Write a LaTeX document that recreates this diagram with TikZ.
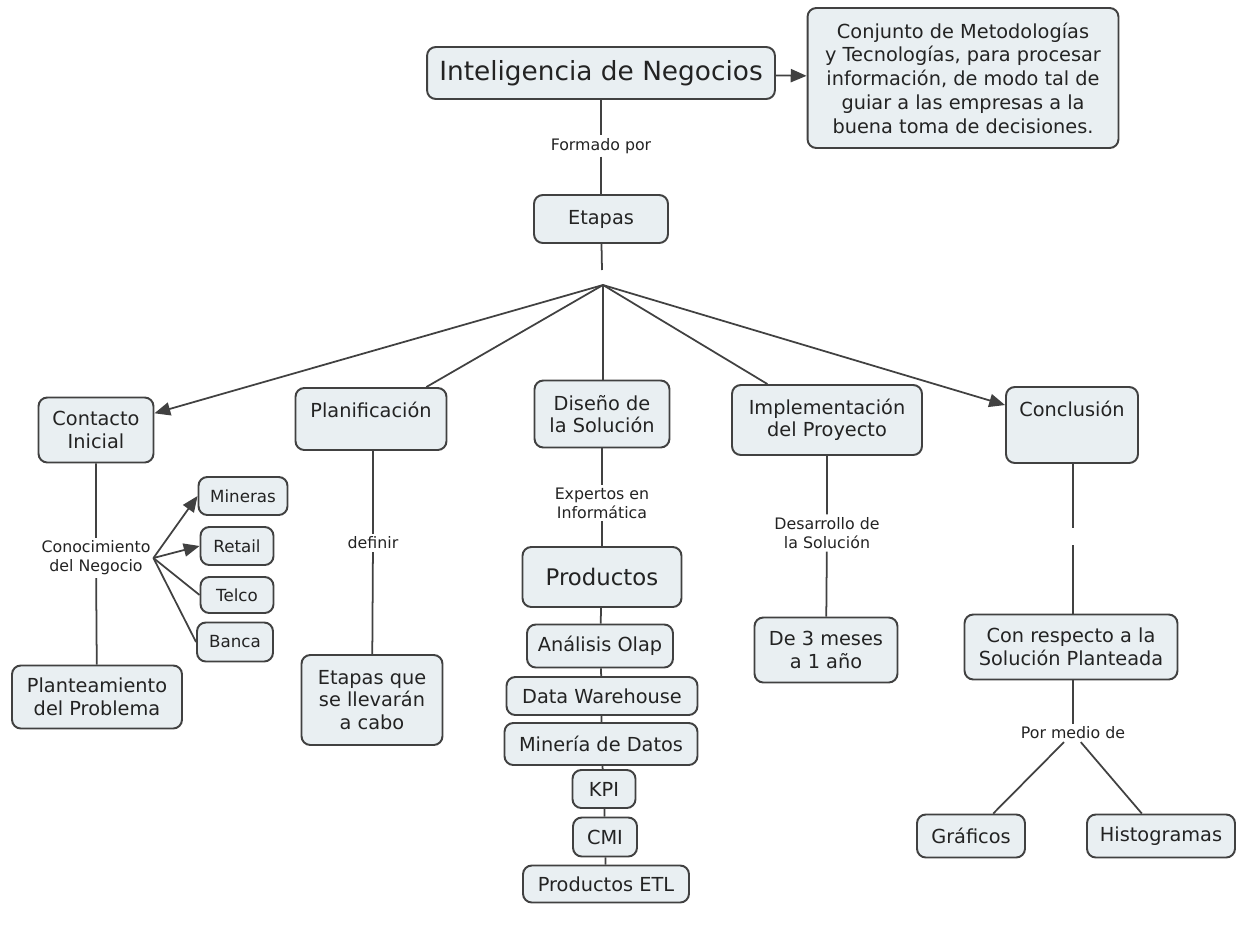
\documentclass[tikz,border=0pt]{standalone}
\usepackage{fontspec}
\setmainfont{DejaVu Sans}
\usepackage{xcolor}
\usetikzlibrary{arrows.meta}
\definecolor{boxfill}{RGB}{233,239,242}
\definecolor{boxline}{RGB}{65,65,65}
\definecolor{boxtext}{RGB}{35,35,35}
\begin{document}
\begin{tikzpicture}[x=0.02cm, y=-0.02cm,
     concept/.style={draw=boxline, fill=boxfill, line width=1.1pt, rounded corners=5pt, align=center, text=boxtext, inner sep=2pt, font=\fontsize{11}{12.8}\selectfont},
     toptext/.style={inner ysep=0pt, text height=#1},
     phrase/.style={fill=white, align=center, text=boxtext, inner sep=1.5pt, font=\fontsize{9}{10.8}\selectfont},
     link/.style={draw=boxline, line width=1pt},
     arrowlink/.style={link, -{Triangle[length=9pt, width=7.5pt]}}]
     \useasboundingbox (0,0) rectangle (1242,930);

     \node[concept, minimum width=6.96cm, minimum height=1.04cm, font=\fontsize{15}{18}\selectfont] (inteligencia) at (601,73) {Inteligencia de Negocios};
     \node[concept, minimum width=6.22cm, minimum height=2.80cm, font=\fontsize{11}{13.5}\selectfont] (definicion) at (963,78) {Conjunto de Metodologías\\y Tecnologías, para procesar\\información, de modo tal de\\guiar a las empresas a la\\buena toma de decisiones.};
     \node[phrase] (formado) at (601,146) {Formado por};
     \node[concept, minimum width=2.68cm, minimum height=0.96cm] (etapas) at (601,219) {Etapas};
     \coordinate (etapasfin) at (602,270);
     \coordinate (centro) at (603,285);

     \node[concept, minimum width=2.30cm, minimum height=1.30cm] (contacto) at (96,430) {Contacto\\Inicial};
     \node[concept, minimum width=3.02cm, toptext=0.58cm, text depth=0.66cm] (planificacion) at (371,419) {Planificación};
     \node[concept, minimum width=2.70cm, minimum height=1.34cm] (diseno) at (602,414) {Diseño de\\la Solución};
     \node[concept, minimum width=3.80cm, minimum height=1.40cm] (implementacion) at (827,420) {Implementación\\del Proyecto};
     \node[concept, minimum width=2.64cm, toptext=0.58cm, text depth=0.94cm] (conclusion) at (1072,425) {Conclusión};

     \node[phrase] (conocimiento) at (96,558) {Conocimiento\\del Negocio};
     \node[concept, minimum width=1.78cm, minimum height=0.76cm, font=\fontsize{9.5}{11}\selectfont] (mineras) at (243,496) {Mineras};
     \node[concept, minimum width=1.46cm, minimum height=0.76cm, font=\fontsize{9.5}{11}\selectfont] (retail) at (237,546) {Retail};
     \node[concept, minimum width=1.46cm, minimum height=0.72cm, font=\fontsize{9.5}{11}\selectfont] (telco) at (237,595) {Telco};
     \node[concept, minimum width=1.52cm, minimum height=0.78cm, font=\fontsize{9.5}{11}\selectfont] (banca) at (235,642) {Banca};
     \node[concept, minimum width=3.40cm, minimum height=1.26cm] (planteamiento) at (97,697) {Planteamiento\\del Problema};

     \node[phrase] (definir) at (373,543) {definir};
     \node[concept, minimum width=2.82cm, minimum height=1.80cm] (etapasque) at (372,700) {Etapas que\\se llevarán\\a cabo};

     \node[phrase] (expertos) at (602,503) {Expertos en\\Informática};
     \node[concept, minimum width=3.18cm, minimum height=1.20cm, font=\fontsize{13}{15}\selectfont] (productos) at (602,577) {Productos};
     \node[concept, minimum width=2.92cm, minimum height=0.86cm] (olap) at (600,646) {Análisis Olap};
     \node[concept, minimum width=3.82cm, minimum height=0.76cm] (warehouse) at (602,696) {Data Warehouse};
     \node[concept, minimum width=3.86cm, minimum height=0.84cm] (mineria) at (601,744) {Minería de Datos};
     \node[concept, minimum width=1.26cm, minimum height=0.76cm] (kpi) at (604,789) {KPI};
     \node[concept, minimum width=1.28cm, minimum height=0.78cm] (cmi) at (605,837) {CMI};
     \node[concept, minimum width=3.32cm, minimum height=0.74cm] (etl) at (606,884) {Productos ETL};

     \node[phrase] (desarrollo) at (827,533) {Desarrollo de\\la Solución};
     \node[concept, minimum width=2.86cm, minimum height=1.30cm] (meses) at (826,650) {De 3 meses\\a 1 año};

     \coordinate (conclusionfin) at (1073,528);
     \coordinate (respectoini) at (1073,545);
     \node[concept, minimum width=4.26cm, minimum height=1.30cm] (respecto) at (1071,647) {Con respecto a la\\Solución Planteada};
     \node[phrase] (pormedio) at (1073,733) {Por medio de};
     \node[concept, minimum width=2.16cm, minimum height=0.86cm] (graficos) at (971,836) {Gráficos};
     \node[concept, minimum width=2.96cm, minimum height=0.86cm] (histogramas) at (1161,836) {Histogramas};

     \draw[arrowlink] (inteligencia) -- (definicion);
     \draw[link] (inteligencia) -- (formado) -- (etapas);
     \draw[link] (etapas) -- (etapasfin);
     \draw[arrowlink] (centro) -- (contacto);
     \draw[link] (centro) -- (planificacion);
     \draw[link] (centro) -- (diseno.north -| centro);
     \draw[link] (centro) -- (implementacion);
     \draw[arrowlink] (centro) -- (conclusion);

     \draw[link] (contacto) -- (conocimiento) -- (planteamiento);
     \draw[arrowlink] (conocimiento.east) -- (mineras.west);
     \draw[arrowlink] (conocimiento.east) -- (retail.west);
     \draw[link] (conocimiento.east) -- (telco.west);
     \draw[link] (conocimiento.east) -- (banca.west);

     \draw[link] (planificacion.south -| definir) -- (definir) -- (etapasque);

     \draw[link] (diseno) -- (expertos) -- (productos);
     \draw[link] (productos) -- (olap);
     \draw[link] (olap) -- (warehouse);
     \draw[link] (warehouse) -- (mineria);
     \draw[link] (mineria) -- (kpi);
     \draw[link] (kpi) -- (cmi);
     \draw[link] (cmi) -- (etl);

     \draw[link] (implementacion) -- (desarrollo) -- (meses);

     \draw[link] (conclusion.south -| conclusionfin) -- (conclusionfin);
     \draw[link] (respectoini) -- (respecto.north -| respectoini);
     \draw[link] (respecto.south -| pormedio) -- (pormedio);
     \draw[link] (pormedio) -- (graficos);
     \draw[link] (pormedio) -- (histogramas);
    \end{tikzpicture}
\end{document}
